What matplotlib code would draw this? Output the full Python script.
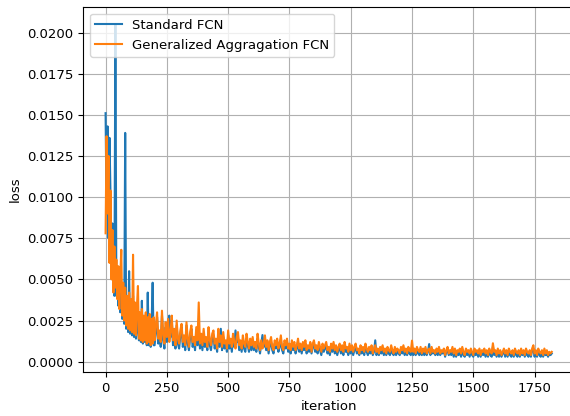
import numpy as np
import matplotlib
matplotlib.use("Agg")
import matplotlib.pyplot as plt

# iterations: fine sampling early, every 5 later
iter_early = list(range(0, 200, 4))
iter_late = list(range(200, 1821, 5))
iterations = np.array(iter_early + iter_late)

standard_early = [
    0.0151, 0.0090, 0.0143, 0.0075, 0.0136, 0.0102, 0.0062, 0.0084, 0.0048, 0.0040,
    0.0205, 0.0040, 0.0055, 0.0034, 0.0050, 0.0030, 0.0046, 0.0026, 0.0044, 0.0023,
    0.0139, 0.0020, 0.0038, 0.0018, 0.0055, 0.0017, 0.0036, 0.0016, 0.0040, 0.0015,
    0.0034, 0.0014, 0.0032, 0.0020, 0.0013, 0.0028, 0.0012, 0.0037, 0.0011, 0.0026,
    0.0012, 0.0028, 0.0010, 0.0042, 0.0010, 0.0027, 0.0009, 0.0025, 0.0048, 0.0010,
]
generalized_early = [
    0.0078, 0.0137, 0.0090, 0.0125, 0.0060, 0.0104, 0.0050, 0.0080, 0.0042, 0.0070,
    0.0045, 0.0062, 0.0038, 0.0058, 0.0032, 0.0052, 0.0068, 0.0028, 0.0048, 0.0025,
    0.0045, 0.0022, 0.0040, 0.0020, 0.0042, 0.0019, 0.0038, 0.0018, 0.0065, 0.0017,
    0.0036, 0.0016, 0.0034, 0.0046, 0.0014, 0.0030, 0.0013, 0.0032, 0.0012, 0.0028,
    0.0013, 0.0030, 0.0011, 0.0027, 0.0012, 0.0029, 0.0010, 0.0026, 0.0011, 0.0027,
]

standard_late = [
    0.0010, 0.0018, 0.0027, 0.0011, 0.0016, 0.0009, 0.0028, 0.0013, 0.0008, 0.0021,
    0.0012, 0.0024, 0.0028, 0.0015, 0.0025, 0.0010, 0.0017, 0.0008, 0.0022, 0.0011,
    0.0008, 0.0016, 0.0021, 0.0009, 0.0013, 0.0007, 0.0022, 0.0011, 0.0007, 0.0015,
    0.0020, 0.0009, 0.0012, 0.0007, 0.0019, 0.0010, 0.0018, 0.0008, 0.0014, 0.0007,
    0.0017, 0.0009, 0.0012, 0.0007, 0.0019, 0.0010, 0.0007, 0.0014, 0.0016, 0.0008,
    0.0011, 0.0006, 0.0017, 0.0009, 0.0020, 0.0007, 0.0015, 0.0008, 0.0011, 0.0006,
    0.0016, 0.0008, 0.0012, 0.0006, 0.0014, 0.0009, 0.0019, 0.0012, 0.0015, 0.0007,
    0.0011, 0.0006, 0.0013, 0.0008, 0.0006, 0.0014, 0.0010, 0.0006, 0.0012, 0.0007,
    0.0013, 0.0007, 0.0010, 0.0006, 0.0014, 0.0009, 0.0005, 0.0011, 0.00162, 0.0009,
    0.0013, 0.0007, 0.0011, 0.0005, 0.0010, 0.0012, 0.0007, 0.0005, 0.0011, 0.0008,
    0.0012, 0.0006, 0.0009, 0.0013, 0.0007, 0.0005, 0.0011, 0.0008, 0.0012, 0.0006,
    0.0009, 0.0005, 0.0011, 0.0007, 0.0010, 0.0005, 0.0008, 0.0012, 0.0006, 0.0009,
    0.0005, 0.0010, 0.0007, 0.0011, 0.0005, 0.0008, 0.0006, 0.0010, 0.0005, 0.0009,
    0.0011, 0.0006, 0.0008, 0.0005, 0.0010, 0.0007, 0.0004, 0.0009, 0.0006, 0.0008,
    0.0010, 0.0005, 0.0007, 0.0004, 0.0009, 0.0006, 0.0010, 0.0005, 0.0008, 0.0004,
    0.0007, 0.0009, 0.0005, 0.0008, 0.0004, 0.0010, 0.0006, 0.0007, 0.0004, 0.0009,
    0.0005, 0.0008, 0.0004, 0.0007, 0.0009, 0.0005, 0.0006, 0.0004, 0.0008, 0.0005,
    0.0007, 0.0004, 0.0009, 0.0006, 0.0004, 0.0007, 0.0005, 0.0008, 0.0004, 0.0006,
    0.0013, 0.0004, 0.0006, 0.0004, 0.0007, 0.0005, 0.0008, 0.0004, 0.0006, 0.0004,
    0.0007, 0.0005, 0.0004, 0.0008, 0.0005, 0.0004, 0.0007, 0.0004, 0.0006, 0.0005,
    0.0004, 0.0007, 0.0005, 0.0008, 0.0004, 0.0006, 0.0004, 0.0007, 0.0005, 0.0004,
    0.0009, 0.0004, 0.0006, 0.0004, 0.0007, 0.0005, 0.0004, 0.0007, 0.0004, 0.0006,
    0.0004, 0.0007, 0.0004, 0.0006, 0.00107, 0.0004, 0.0007, 0.0005, 0.0006, 0.0004,
    0.0007, 0.0004, 0.0008, 0.0004, 0.0006, 0.0005, 0.0007, 0.0003, 0.0006, 0.0007,
    0.0004, 0.0006, 0.0004, 0.0007, 0.0003, 0.0006, 0.0003, 0.0006, 0.0004, 0.0007,
    0.0003, 0.0007, 0.0004, 0.0003, 0.0006, 0.0004, 0.0006, 0.0003, 0.0007, 0.0004,
    0.0003, 0.0006, 0.0004, 0.0006, 0.0003, 0.0007, 0.0003, 0.0006, 0.0004, 0.0006,
    0.0003, 0.0006, 0.0003, 0.0007, 0.0004, 0.0003, 0.0009, 0.0004, 0.0006, 0.0003,
    0.0006, 0.0003, 0.0006, 0.0003, 0.0005, 0.0007, 0.0003, 0.0006, 0.0003, 0.0006,
    0.0004, 0.0003, 0.0006, 0.0003, 0.0007, 0.0004, 0.0003, 0.0006, 0.0003, 0.0006,
    0.0004, 0.0006, 0.0003, 0.0006, 0.0004, 0.0003, 0.0006, 0.0003, 0.0007, 0.0008,
    0.0003, 0.0006, 0.0003, 0.0007, 0.0004, 0.0003, 0.0006, 0.0003, 0.0006, 0.0004,
    0.0005, 0.0003, 0.0005, 0.0004, 0.0005,
]
generalized_late = [
    0.0013, 0.0022, 0.0030, 0.0014, 0.0019, 0.0012, 0.0031, 0.0016, 0.0011, 0.0024,
    0.0015, 0.0026, 0.0012, 0.0018, 0.0028, 0.0013, 0.0020, 0.0010, 0.0025, 0.0014,
    0.0011, 0.0019, 0.0023, 0.0012, 0.0016, 0.0010, 0.0024, 0.0014, 0.0009, 0.0018,
    0.0022, 0.0012, 0.0015, 0.0010, 0.0021, 0.0013, 0.0036, 0.0011, 0.0017, 0.0010,
    0.0020, 0.0012, 0.0015, 0.0009, 0.0021, 0.0013, 0.0010, 0.0017, 0.0019, 0.0011,
    0.0014, 0.0008, 0.0020, 0.0012, 0.0016, 0.0009, 0.0018, 0.0011, 0.0013, 0.0008,
    0.0019, 0.0011, 0.0014, 0.0009, 0.0017, 0.0012, 0.0008, 0.0015, 0.0018, 0.0010,
    0.0013, 0.0008, 0.0016, 0.0011, 0.0009, 0.0017, 0.0012, 0.0008, 0.0014, 0.0010,
    0.0015, 0.0009, 0.0012, 0.0008, 0.0017, 0.0011, 0.0007, 0.0013, 0.0008, 0.0011,
    0.0016, 0.0009, 0.0013, 0.0007, 0.0012, 0.0015, 0.0009, 0.0007, 0.0013, 0.0010,
    0.0014, 0.0008, 0.0011, 0.0016, 0.0009, 0.0007, 0.0013, 0.0010, 0.0014, 0.0008,
    0.0011, 0.0007, 0.0013, 0.0009, 0.0012, 0.0007, 0.0010, 0.0014, 0.0008, 0.0011,
    0.0007, 0.0012, 0.0009, 0.0013, 0.0007, 0.0010, 0.0008, 0.0012, 0.0006, 0.0011,
    0.0013, 0.0008, 0.0010, 0.0007, 0.0012, 0.0009, 0.0006, 0.0011, 0.0008, 0.0010,
    0.0012, 0.0007, 0.0009, 0.0006, 0.0011, 0.0008, 0.0012, 0.0007, 0.0010, 0.0006,
    0.0009, 0.0011, 0.0007, 0.0010, 0.0006, 0.0012, 0.0008, 0.0009, 0.0006, 0.0011,
    0.0007, 0.0010, 0.0006, 0.0009, 0.0011, 0.0007, 0.0008, 0.0005, 0.0010, 0.0007,
    0.0009, 0.0006, 0.0011, 0.0008, 0.0006, 0.0009, 0.0007, 0.0010, 0.0005, 0.0008,
    0.0010, 0.0006, 0.0008, 0.0005, 0.0009, 0.0007, 0.0010, 0.0006, 0.0008, 0.0005,
    0.0009, 0.0007, 0.0006, 0.0010, 0.0007, 0.0005, 0.0009, 0.0006, 0.0008, 0.0007,
    0.0005, 0.0009, 0.0007, 0.0010, 0.0006, 0.0008, 0.0005, 0.0009, 0.0007, 0.0006,
    0.00128, 0.0006, 0.0008, 0.0005, 0.0009, 0.0007, 0.0006, 0.0009, 0.0005, 0.0008,
    0.0006, 0.0009, 0.0005, 0.0007, 0.0008, 0.0005, 0.0009, 0.0006, 0.0007, 0.0005,
    0.0008, 0.0006, 0.0009, 0.0005, 0.0007, 0.0006, 0.0008, 0.0004, 0.0007, 0.0009,
    0.0005, 0.0007, 0.0006, 0.0009, 0.0005, 0.0008, 0.0004, 0.0007, 0.0006, 0.0008,
    0.0005, 0.0009, 0.0006, 0.0004, 0.0008, 0.0006, 0.0007, 0.0005, 0.0008, 0.0006,
    0.0004, 0.0008, 0.0006, 0.0007, 0.0005, 0.0008, 0.0004, 0.0007, 0.0006, 0.0008,
    0.0005, 0.0007, 0.0004, 0.0008, 0.0006, 0.0005, 0.00112, 0.0006, 0.0007, 0.0004,
    0.0008, 0.0005, 0.0007, 0.0004, 0.0006, 0.0008, 0.0005, 0.0007, 0.0004, 0.0008,
    0.0006, 0.0005, 0.0007, 0.0004, 0.0008, 0.0006, 0.0005, 0.0007, 0.0004, 0.0008,
    0.0005, 0.0007, 0.0004, 0.0008, 0.0006, 0.0005, 0.0007, 0.0004, 0.0008, 0.0010,
    0.0005, 0.0007, 0.0004, 0.0008, 0.0006, 0.0005, 0.0007, 0.0004, 0.0008, 0.0005,
    0.0007, 0.0004, 0.0006, 0.0005, 0.0006,
]

standard_loss = np.array(standard_early + standard_late)
generalized_loss = np.array(generalized_early + generalized_late)

series_labels = ["Standard FCN", "Generalized Aggragation FCN"]
y_ticks = [0.0, 0.0025, 0.005, 0.0075, 0.01, 0.0125, 0.015, 0.0175, 0.02]
x_ticks = [0, 250, 500, 750, 1000, 1250, 1500, 1750]

fs = 9.5
fig = plt.figure(figsize=(5.7, 4.16), dpi=100)
ax = fig.add_axes([0.1461, 0.1058, 0.861, 0.877])
ax.plot(iterations, standard_loss, color="#1f77b4", lw=1.5, label=series_labels[0])
ax.plot(iterations, generalized_loss, color="#ff7f0e", lw=1.5, label=series_labels[1])
ax.set_xlim(-91, 1911)
ax.set_ylim(-0.000625, 0.02154)
ax.set_xticks(x_ticks)
ax.set_yticks(y_ticks)
ax.set_yticklabels([f"{v:.4f}" for v in y_ticks])
ax.tick_params(labelsize=fs)
ax.grid(True, color="#b0b0b0", lw=0.8)
ax.set_xlabel("iteration", fontsize=fs)
ax.set_ylabel("loss", fontsize=fs)
ax.legend(loc="upper left", fontsize=fs)
fig.savefig("out.png", dpi=100)
